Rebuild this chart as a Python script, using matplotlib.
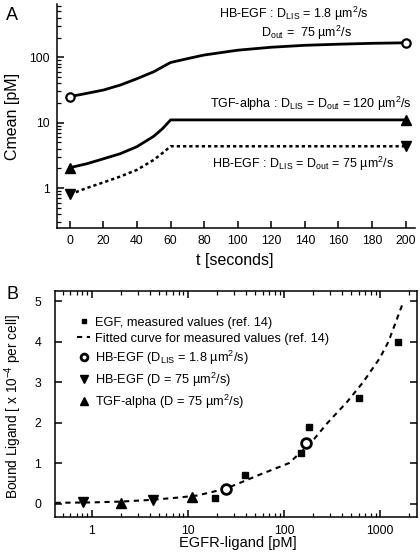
import numpy as np
import matplotlib
matplotlib.use("Agg")
import matplotlib.pyplot as plt
from matplotlib.ticker import LogLocator, NullFormatter, FixedLocator

plt.rcParams["font.family"] = ["Liberation Sans", "DejaVu Sans"]
plt.rcParams["mathtext.default"] = "regular"

# Panel A: mean concentration vs time
t_dlis = [0, 10, 20, 30, 40, 50, 58, 60, 70, 80, 100, 120, 140, 160, 180, 200]
c_dlis = [25, 28, 31.5, 37.5, 47, 60, 78, 83, 95, 108, 128, 142, 152, 158, 163, 166]

t_tgf = [0, 10, 20, 30, 40, 50, 55, 60, 200]
c_tgf = [2.05, 2.35, 2.8, 3.35, 4.3, 6.2, 8.0, 11, 11]

t_hb = [0, 10, 20, 30, 40, 50, 55, 60, 200]
c_hb = [0.8, 1.0, 1.22, 1.5, 1.9, 2.7, 3.4, 4.35, 4.35]

# Panel B: bound ligand vs ligand concentration
egf_conc = [19, 39, 150, 182, 610, 1550]
egf_bound = [0.15, 0.7, 1.24, 1.9, 2.6, 4.0]

fit_conc = [0.42, 1, 2, 4, 8, 12.5, 25, 54, 113, 191, 286, 450, 668, 1000, 1225, 1760]
fit_bound = [0.02, 0.03, 0.05, 0.09, 0.15, 0.2, 0.37, 0.7, 1.0, 1.5, 2.0, 2.5, 3.0, 3.6, 4.0, 5.0]

hb_dlis_conc = [25, 170]
hb_dlis_bound = [0.37, 1.5]

hb_conc = [0.82, 4.3]
hb_bound = [0.04, 0.09]

tgf_conc = [2.0, 11]
tgf_bound = [0.02, 0.17]

fig = plt.figure(figsize=(4.2, 5.58), dpi=100)

# ---------------- panel A ----------------
axA = fig.add_axes([0.1357, 0.5914, 0.852, 0.4014])
axA.plot(t_dlis, c_dlis, "-", color="black", lw=2.0,
         marker="o", markevery=[0, -1], ms=6, mfc="white", mew=1.6, mec="black")
axA.plot(t_tgf, c_tgf, "-", color="black", lw=2.0,
         marker="^", markevery=[0, -1], ms=7, mfc="black", mec="black")
axA.plot(t_hb, c_hb, linestyle=(0, (1.3, 1.2)), color="black", lw=1.8,
         marker="v", markevery=[0, -1], ms=7, mfc="black", mec="black")
axA.set_yscale("log")
axA.set_xlim(-7.7, 205.5)
axA.set_ylim(0.245, 650)
axA.xaxis.set_major_locator(FixedLocator(np.arange(0, 201, 20)))
axA.yaxis.set_major_locator(FixedLocator([1, 10, 100]))
axA.yaxis.set_minor_locator(LogLocator(base=10, subs=np.arange(2, 10)))
axA.yaxis.set_minor_formatter(NullFormatter())
axA.set_yticklabels(["1", "10", "100"])
axA.spines["top"].set_visible(False)
axA.spines["right"].set_visible(False)
for s in ["left", "bottom"]:
    axA.spines[s].set_linewidth(1.1)
axA.tick_params(which="major", direction="in", length=5, width=1.1, labelsize=8.8, pad=5)
axA.tick_params(which="minor", direction="in", length=3, width=0.9)
axA.set_xlabel("t [seconds]", fontsize=11.5)
axA.set_ylabel("Cmean [pM]", fontsize=11.5)
axA.xaxis.label.set_va("center")
axA.yaxis.label.set_va("center")
axA.xaxis.set_label_coords(0.497, -0.143)
axA.yaxis.set_label_coords(-0.123, 0.497)

txt_kw = dict(ha="center", va="center", fontsize=9)
axA.text(133.5, 453, "HB-EGF : D$_{LIS}$ = 1.8 µm$^2$/s", **txt_kw)
axA.text(141, 232, "D$_{out}$ =  75 µm$^2$/s", **txt_kw)
axA.text(143.6, 19.5, "TGF-alpha : D$_{LIS}$ = D$_{out}$ = 120 µm$^2$/s", **txt_kw)
axA.text(139, 2.37, "HB-EGF : D$_{LIS}$ = D$_{out}$ = 75 µm$^2$/s", **txt_kw)
fig.text(0.015, 0.988, "A", fontsize=13, ha="left", va="top")

# ---------------- panel B ----------------
axB = fig.add_axes([0.131, 0.0735, 0.862, 0.405])
axB.plot(fit_conc, fit_bound, linestyle=(0, (2.5, 2.2)), color="black", lw=1.5,
         label="Fitted curve for measured values (ref. 14)", zorder=2)
axB.plot(egf_conc, egf_bound, "s", color="black", ms=4.5,
         label="EGF, measured values (ref. 14)", zorder=3)
axB.plot(hb_dlis_conc, hb_dlis_bound, "o", ms=7, mfc="white", mec="black", mew=2,
         label="HB-EGF (D$_{LIS}$ = 1.8 µm$^2$/s)", zorder=3)
axB.plot(hb_conc, hb_bound, "v", color="black", ms=7.5,
         label="HB-EGF (D = 75 µm$^2$/s)", zorder=3)
axB.plot(tgf_conc, tgf_bound, "^", color="black", ms=7.5,
         label="TGF-alpha (D = 75 µm$^2$/s)", zorder=3)
axB.set_xscale("log")
axB.set_xlim(0.415, 2430)
axB.set_ylim(-0.33, 5.25)
axB.xaxis.set_major_locator(FixedLocator([1, 10, 100, 1000]))
axB.set_xticklabels(["1", "10", "100", "1000"])
axB.xaxis.set_minor_locator(LogLocator(base=10, subs=np.arange(2, 10)))
axB.xaxis.set_minor_formatter(NullFormatter())
axB.yaxis.set_major_locator(FixedLocator([0, 1, 2, 3, 4, 5]))
for s in axB.spines.values():
    s.set_linewidth(1.1)
axB.tick_params(which="both", direction="in", top=True, right=True)
axB.tick_params(which="major", length=5, width=1.1, labelsize=8.8)
axB.tick_params(axis="x", which="major", pad=6)
axB.tick_params(axis="y", which="major", pad=10)
axB.tick_params(which="minor", length=3, width=0.9)
axB.set_xlabel("EGFR-ligand [pM]", fontsize=10.5)
axB.set_ylabel("Bound Ligand [ x 10$^{-4}$ per cell]", fontsize=9.8)
axB.xaxis.label.set_va("center")
axB.yaxis.label.set_va("center")
axB.xaxis.set_label_coords(0.504, -0.115)
axB.yaxis.set_label_coords(-0.115, 0.49)

handles, labels = axB.get_legend_handles_labels()
order = [1, 0, 2, 3, 4]
axB.legend([handles[i] for i in order], [labels[i] for i in order],
           loc="upper left", bbox_to_anchor=(0.04, 0.92), frameon=False,
           fontsize=9.2, handlelength=1.0, handletextpad=0.4, labelspacing=0.3,
           markerscale=0.7, borderaxespad=0.2)
fig.text(0.015, 0.488, "B", fontsize=13, ha="left", va="top")

fig.savefig("out.png", dpi=100)
